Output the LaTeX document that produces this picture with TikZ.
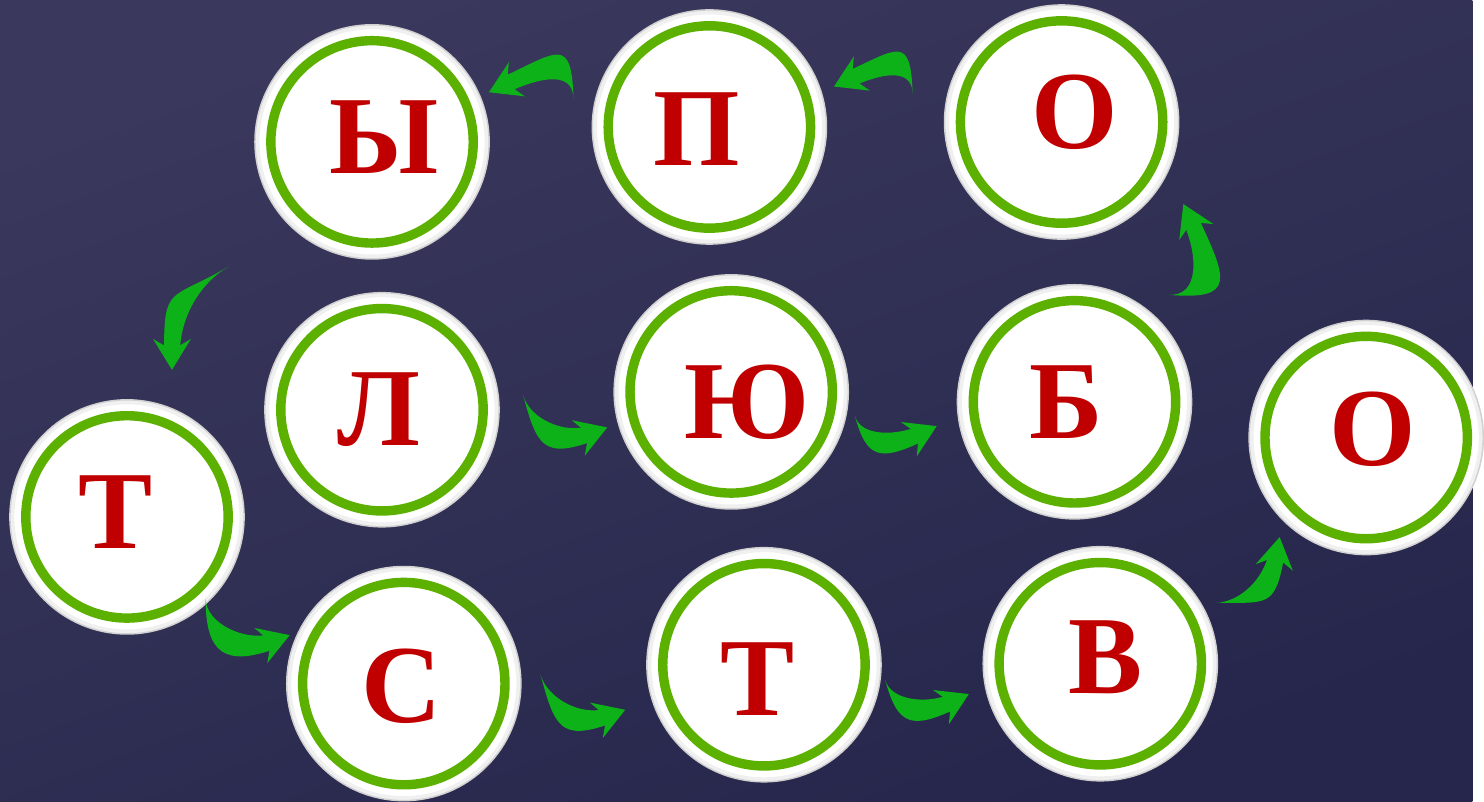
\documentclass[tikz,border=0pt]{standalone}
\usepackage{fontspec}
\setmainfont{Liberation Serif}
\usetikzlibrary{arrows.meta,calc}
\definecolor{bgtop}{RGB}{58,56,92}
\definecolor{bgbot}{RGB}{38,38,76}
\definecolor{ringgreen}{RGB}{92,176,0}
\definecolor{arrowgreen}{RGB}{12,178,24}
\definecolor{letterred}{RGB}{192,0,0}

\begin{document}
\begin{tikzpicture}[x=1pt,y=1pt,
  disc/.style={circle,minimum size=236pt,inner sep=0pt,fill=white,draw=black!18,line width=1.5pt,
    path picture={\draw[black!6,line width=5pt] (path picture bounding box.center) circle (116pt);
      \draw[ringgreen,line width=9.5pt] (path picture bounding box.center) circle (102pt);}},
  glyph/.style={inner sep=0pt,text=letterred,font=\fontsize{112}{112}\selectfont\bfseries},
  bow/.style={fill=arrowgreen}]
\shade[top color=bgtop,bottom color=bgbot,shading angle=20] (0,0) rectangle (1484,808);
% letter discs
\foreach \n/\x/\y/\ch/\dx/\dy in {yery/375/665/Ы/12/5,pe/715/680/П/-13/-2,o1/1070/685/О/13/10,
  el/385/395/Л/-3/0,yu/737/413/Ю/16/-10,be/1083/403/Б/-8/0,o2/1377/367/О/7/8,
  te1/128/287/Т/-12/5,es/407/119/С/-2/-3,te2/770/138/Т/-6/-15,ve/1109/139/В/5/7}{
  \node[disc] (\n) at (\x,\y) {};
  \node[glyph] (\n-t) at ($(\n)+(\dx,\dy)$) {\ch};}
% curved arrows: crescent body, then swept head
\foreach \a/\p/\b/\q/\o/\i/\l in {el/6:143/yu/196:130/-75/200/1.3,yu/-11:127/be/190:141/-75/205/1.3,
  be/49:143/o1/-34:148/-5/-65/1.7,o1/169:153/pe/18:132/92/25/1.7,pe/168:140/yery/23:128/92/25/1.7,
  yery/221:192/te1/73:155/210/90/1.3,te1/-46:114/es/157:125/-90/200/1.3,es/4:138/te2/198:147/-75/200/1.3,
  te2/-7:123/ve/193:136/-75/205/1.3,ve/28:131/o2/229:133/0/-100/1.3}{
  \pgfmathsetmacro\lout{\l*1.25}
  \pgfmathsetmacro\lin{\l*0.68}
  \coordinate (tail) at ($(\a)+(\p)$);
  \coordinate (tip) at ($(\b)+(\q)$);
  \coordinate (neck) at ($(tip)+(\i:17)$);
  \fill[bow] (tail) to[out=\o,in=\i,looseness=\lout] ($(neck)+({\i+90}:8)$) -- ($(neck)+({\i-90}:8)$)
    to[out=\i,in=\o,looseness=\lin] (tail);
  \fill[bow] (tip) -- ($(tip)+(\i:31)+({\i+90}:19)$) -- ($(tip)+(\i:20)$) -- ($(tip)+(\i:31)+({\i-90}:19)$) -- cycle;}
\end{tikzpicture}
\end{document}
